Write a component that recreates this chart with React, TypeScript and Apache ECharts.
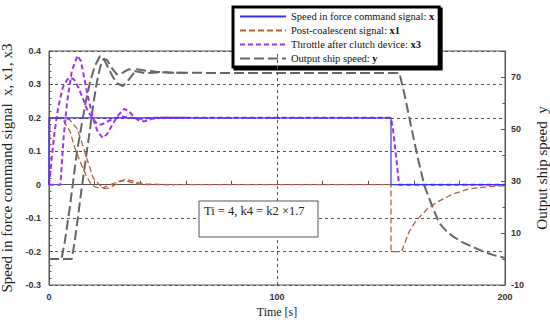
import React, { useEffect, useRef } from "react";
import * as echarts from "echarts";

// ---- data ----
const xSignal: number[][] = [[0, 0], [0, 0.2], [150, 0.2], [150, 0], [200, 0]];

const x1RunA: number[][] = [[0, 0], [0.5, 0.2], [4.4, 0.2], [6.5, 0.19], [9.2, 0.16], [11.4, 0.108], [14.4, 0.057], [16.5, 0.025], [18, 0.006], [20, -0.006], [22, -0.01], [24, -0.008], [27, 0.0], [30, 0.009], [32, 0.012], [35, 0.009], [38, 0.003], [42, 0], [150, 0], [150, -0.2], [154.6, -0.2], [158, -0.14], [161, -0.108], [166, -0.072], [170, -0.053], [177, -0.028], [184, -0.013], [192, -0.006], [200, -0.003]];
const x1RunB: number[][] = [[0, 0.2], [6, 0.2], [9, 0.195], [12.3, 0.168], [14.4, 0.126], [16.6, 0.078], [19.3, 0.021], [21.5, 0.004], [24, -0.012], [26.5, -0.01], [29, 0.0], [31, 0.008], [33, 0.015], [36, 0.012], [39, 0.006], [43, 0.002], [48, 0.001], [55, 0]];

const x3RunA: number[][] = [[0, 0], [0.5, 0.03], [1.5, 0.1], [2.5, 0.16], [4, 0.23], [6, 0.29], [8, 0.315], [9.5, 0.32], [11, 0.315], [13, 0.29], [15, 0.255], [17, 0.22], [19, 0.2], [21, 0.183], [23, 0.18], [25, 0.187], [28, 0.197], [32, 0.204], [36, 0.2], [40, 0.197], [45, 0.2], [150, 0.2], [150.8, 0.17], [151.8, 0.11], [152.8, 0.05], [153.5, 0], [200, 0]];
const x3RunB: number[][] = [[0, 0], [5, 0], [5.5, 0.05], [6.5, 0.15], [8, 0.25], [10, 0.34], [12.5, 0.386], [14, 0.37], [16, 0.3], [17, 0.266], [19.3, 0.198], [21.5, 0.156], [23.7, 0.14], [25.5, 0.152], [27.6, 0.177], [30, 0.205], [33, 0.227], [35, 0.22], [37.7, 0.2], [40, 0.19], [42, 0.19], [45, 0.197], [50, 0.201], [55, 0.2], [60, 0.2]];

const yRunA: number[][] = [[0, 0], [5.5, 0], [7, 7], [9, 19], [12.3, 41.5], [14, 50], [16, 60], [18, 68], [20, 74], [22.3, 78], [24, 77], [26, 73.5], [28, 70], [30, 67.5], [32.4, 66.5], [35, 69], [38.5, 73], [42, 72.5], [47, 72], [55, 71.6], [150, 71.5], [153.7, 71.5], [156, 63], [158, 54.5], [160, 46], [162, 38], [164.7, 28], [166.5, 24], [168, 20.5], [171, 14], [174, 11], [177, 8.8], [181, 6.6], [185, 5], [190, 3], [195, 1.5], [200, 0.4]];
const yRunB: number[][] = [[0, 0], [10, 0], [11.5, 8], [14, 25], [16.6, 41.5], [18, 50], [19.5, 60], [21, 68], [22.5, 74], [24, 77], [25.5, 76.5], [27.5, 73.5], [29.7, 71], [32, 71.5], [35, 73], [38, 72.2], [42, 71.5], [50, 71.8], [60, 71.5]];

const legendLabels: Record<string, string> = {
  x: "Speed in force command signal: {b|x}",
  x1: "Post-coalescent signal: {b|x1}",
  x3: "Throttle after clutch device: {b|x3}",
  y: "Output ship speed: {b|y}",
};
const annotation = "Ti = 4, k4 = k2 ×1.7";

const SERIF = "'Liberation Serif', 'DejaVu Serif', serif";
const SANS = "'Liberation Sans', Arial, sans-serif";

const C_X = "#3b30f0";
const C_X1 = "#b5603a";
const C_X3 = "#a033f0";
const C_Y = "#666666";

export default function App() {
  const ref = useRef<HTMLDivElement>(null);
  useEffect(() => {
    if (!ref.current) return;
    const chart = echarts.init(ref.current, null, { renderer: "svg" });
    const line = (name: string, data: number[][], color: string, width: number, type: any, yAxisIndex = 0, z = 2) => ({
      type: "line",
      name,
      data,
      yAxisIndex,
      symbol: "none",
      showSymbol: false,
      z,
      lineStyle: { color, width, type },
      itemStyle: { color },
    });
    chart.setOption({
      animation: false,
      backgroundColor: "#fff",
      grid: {
        left: 49, right: 45, top: 51, bottom: 38,
        show: true, borderColor: "#555", borderWidth: 1,
        containLabel: false, outerBoundsMode: "none",
      },
      legend: {
        data: ["x", "x1", "x3", "y"],
        orient: "vertical",
        left: 233,
        top: 7,
        padding: [4, 5, 3, 6],
        itemWidth: 46,
        itemHeight: 10,
        itemGap: 3,
        backgroundColor: "#fff",
        borderColor: "#000",
        borderWidth: 3,
        shadowColor: "#000",
        shadowOffsetX: 2,
        shadowOffsetY: 2,
        shadowBlur: 0,
        itemStyle: { opacity: 0 },
        formatter: (n: string) => legendLabels[n],
        textStyle: {
          fontFamily: SERIF,
          fontSize: 10.5,
          color: "#111",
          rich: { b: { fontFamily: SERIF, fontSize: 10.5, fontWeight: "bold", color: "#111" } },
        },
      },
      xAxis: {
        type: "value",
        min: 0,
        max: 200,
        interval: 20,
        name: "Time [s]",
        nameLocation: "middle",
        nameGap: 19,
        nameTextStyle: { fontFamily: SERIF, fontSize: 12, color: "#222" },
        axisLine: { lineStyle: { color: "#555" } },
        axisTick: { inside: true, length: 4, lineStyle: { color: "#555" } },
        axisLabel: {
          fontFamily: SANS,
          fontSize: 9,
          fontWeight: "bold",
          color: "#333",
          margin: 7,
          formatter: (v: number) => (v % 100 === 0 ? String(v) : ""),
        },
        splitLine: { show: false },
      },
      yAxis: [
        {
          type: "value",
          min: -0.3,
          max: 0.4,
          interval: 0.1,
          name: "Speed in force command signal  x, x1, x3",
          nameLocation: "middle",
          nameGap: 29,
          nameTextStyle: { fontFamily: SERIF, fontSize: 15, color: "#222" },
          axisLine: { show: true, lineStyle: { color: "#555" } },
          axisTick: { inside: true, length: 4, lineStyle: { color: "#555" } },
          minorTick: { show: true, splitNumber: 5, length: 2.5, lineStyle: { color: "#555" } },
          axisLabel: {
            fontFamily: SANS,
            fontSize: 9,
            fontWeight: "bold",
            color: "#333",
            margin: 8,
            formatter: (v: number) => String(Math.round(v * 10) / 10),
          },
          splitLine: { show: true, lineStyle: { color: "#555", type: [3, 3], width: 1 } },
        },
        {
          type: "value",
          min: -10,
          max: 80,
          interval: 20,
          position: "right",
          name: "Output ship speed  y",
          nameLocation: "middle",
          nameGap: 26,
          nameRotate: 90,
          nameTextStyle: { fontFamily: SERIF, fontSize: 15, color: "#222" },
          axisLine: { show: true, lineStyle: { color: "#555" } },
          axisTick: { inside: true, length: 4, lineStyle: { color: "#555" } },
          minorTick: { show: true, splitNumber: 2, length: 2.5, lineStyle: { color: "#555" } },
          axisLabel: {
            fontFamily: SANS,
            fontSize: 9,
            fontWeight: "bold",
            color: "#333",
            margin: 6,
            formatter: (v: number) => (v >= 80 ? "" : String(v)),
          },
          splitLine: { show: false },
        },
      ],
      series: [
        {
          ...line("x", xSignal, C_X, 1.2, "solid", 0, 4),
          markLine: {
            silent: true,
            symbol: "none",
            label: { show: false },
            lineStyle: { color: "#555", type: [3, 3], width: 1 },
            data: [{ xAxis: 100 }],
          },
        },
        line("x1", x1RunA, C_X1, 1.3, [6, 3], 0, 3),
        line("x1", x1RunB, C_X1, 1.3, [6, 3], 0, 3),
        line("x3", x3RunA, C_X3, 2, [5, 3], 0, 3),
        line("x3", x3RunB, C_X3, 2, [5, 3], 0, 3),
        line("y", yRunA, C_Y, 2, [10, 4], 1, 2),
        line("y", yRunB, C_Y, 2, [10, 4], 1, 2),
      ],
      graphic: [
        {
          type: "rect",
          shape: { x: 199, y: 201, width: 119, height: 36 },
          style: { fill: "#fff", stroke: "#555", lineWidth: 1 },
          z: 10,
        },
        {
          type: "text",
          x: 204,
          y: 211,
          style: { text: annotation, fontFamily: SERIF, fontSize: 12.5, fill: "#222", verticalAlign: "middle" },
          z: 11,
        },
      ],
    });
    return () => chart.dispose();
  }, []);
  return <div ref={ref} style={{ width: 550, height: 323, position: "absolute", left: 0, top: 0 }} />;
}
